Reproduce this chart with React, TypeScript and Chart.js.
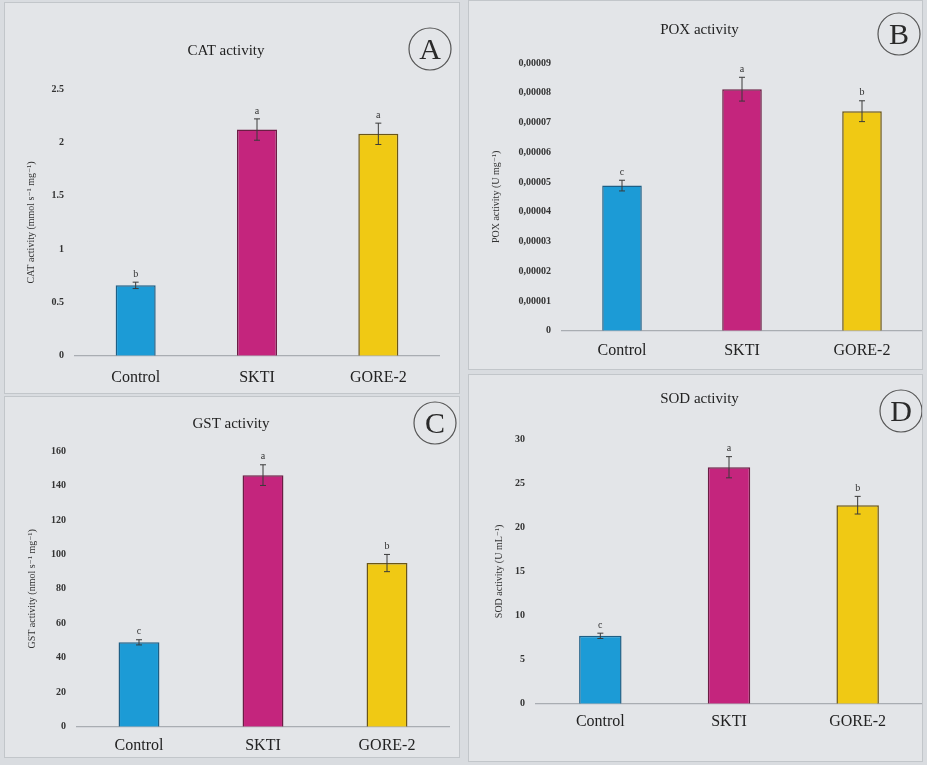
import React, { useEffect, useRef } from "react";
import { Chart, registerables } from "chart.js";

Chart.register(...registerables);

const categories = ["Control", "SKTI", "GORE-2"];

const catValues = [0.66, 2.12, 2.08];
const catErrors = [0.03, 0.1, 0.1];
const catLetters = ["b", "a", "a"];
const catTicks = ["0", "0.5", "1", "1.5", "2", "2.5"];

const poxValues = [0.0000488, 0.0000812, 0.0000738];
const poxErrors = [0.0000018, 0.000004, 0.0000035];
const poxLetters = ["c", "a", "b"];
const poxTicks = ["0", "0,00001", "0,00002", "0,00003", "0,00004", "0,00005", "0,00006", "0,00007", "0,00008", "0,00009"];

const gstValues = [49, 146, 95];
const gstErrors = [1.5, 6, 5];
const gstLetters = ["c", "a", "b"];
const gstTicks = ["0", "20", "40", "60", "80", "100", "120", "140", "160"];

const sodValues = [7.7, 26.8, 22.5];
const sodErrors = [0.3, 1.2, 1.0];
const sodLetters = ["c", "a", "b"];
const sodTicks = ["0", "5", "10", "15", "20", "25", "30"];

const barColors = ["#1c9bd6", "#c4257d", "#f0c914"];
const barBorders = ["#1d5f86", "#6b1d44", "#6a5518"];
const SERIF = "'Liberation Serif', 'DejaVu Serif', serif";

type PanelCfg = {
  title: string;
  tag: string;
  yTitle: string;
  values: number[];
  errors: number[];
  letters: string[];
  ticks: string[];
  step: number;
  max: number;
  box: { left: number; top: number; width: number; height: number };
  titleTop: number;
  titleBottom: number;
  padLeft: number;
  padRight: number;
  padBottom: number;
  xPad: number;
  yWidth: number;
  yTitlePad: number;
  circle: { x: number; y: number };
};

const annotPlugin = {
  id: "annot",
  afterDatasetsDraw(chart: any, _args: any, opts: any) {
    const { ctx } = chart;
    const meta = chart.getDatasetMeta(0);
    const y = chart.scales.y;
    ctx.save();
    opts.values.forEach((v: number, i: number) => {
      const bar = meta.data[i];
      const x = bar.x;
      const top = y.getPixelForValue(v + opts.errors[i]);
      const bot = y.getPixelForValue(v - opts.errors[i]);
      ctx.strokeStyle = "#3a3a3a";
      ctx.lineWidth = 1;
      ctx.beginPath();
      ctx.moveTo(x, top);
      ctx.lineTo(x, bot);
      ctx.moveTo(x - 3, top);
      ctx.lineTo(x + 3, top);
      ctx.moveTo(x - 3, bot);
      ctx.lineTo(x + 3, bot);
      ctx.stroke();
      ctx.fillStyle = "#333";
      ctx.font = `10px ${SERIF}`;
      ctx.textAlign = "center";
      ctx.textBaseline = "bottom";
      ctx.fillText(opts.letters[i], x, top - 3);
    });
    // circled panel tag
    const c = opts.circle;
    ctx.beginPath();
    ctx.arc(c.x, c.y, 21, 0, Math.PI * 2);
    ctx.strokeStyle = "#555";
    ctx.lineWidth = 1.2;
    ctx.stroke();
    ctx.fillStyle = "#2a2a2a";
    ctx.font = `30px ${SERIF}`;
    ctx.textAlign = "center";
    ctx.textBaseline = "middle";
    ctx.fillText(opts.tag, c.x, c.y + 2);
    ctx.restore();
  },
};

function Panel({ cfg }: { cfg: PanelCfg }) {
  const ref = useRef<HTMLCanvasElement | null>(null);
  useEffect(() => {
    if (!ref.current) return;
    const chart = new Chart(ref.current, {
      type: "bar",
      data: {
        labels: categories,
        datasets: [
          {
            data: cfg.values,
            backgroundColor: barColors,
            borderColor: barBorders,
            borderWidth: 1.5,
            barPercentage: 0.33,
            categoryPercentage: 1,
          },
        ],
      },
      options: {
        animation: false,
        responsive: false,
        maintainAspectRatio: false,
        layout: {
          padding: { left: cfg.padLeft, right: cfg.padRight, bottom: cfg.padBottom, top: 0 },
        },
        plugins: {
          legend: { display: false },
          tooltip: { enabled: false },
          title: {
            display: true,
            text: cfg.title,
            color: "#222",
            font: { family: SERIF, size: 15, weight: "normal" },
            padding: { top: cfg.titleTop, bottom: cfg.titleBottom },
          },
          annot: {
            values: cfg.values,
            errors: cfg.errors,
            letters: cfg.letters,
            tag: cfg.tag,
            circle: cfg.circle,
          },
        } as any,
        scales: {
          x: {
            grid: { display: false, drawTicks: false },
            border: { display: true, color: "#a9adb2", width: 1.2 },
            ticks: { color: "#222", font: { family: SERIF, size: 16 }, padding: cfg.xPad, maxRotation: 0 },
          },
          y: {
            min: 0,
            max: cfg.max,
            grid: { display: false, drawTicks: false },
            border: { display: false },
            afterFit: (scale: any) => {
              scale.width = cfg.yWidth;
            },
            ticks: {
              stepSize: cfg.step,
              color: "#333",
              padding: 11,
              font: { family: SERIF, size: 10, weight: "bold" },
              callback: (value: any) => cfg.ticks[Math.round(Number(value) / cfg.step)] ?? "",
            },
            title: {
              display: true,
              text: cfg.yTitle,
              color: "#333",
              font: { family: SERIF, size: 10 },
              padding: { top: cfg.yTitlePad, bottom: 0 },
            },
          },
        },
      },
      plugins: [annotPlugin as any],
    });
    return () => chart.destroy();
  }, [cfg]);
  const b = cfg.box;
  return (
    <div
      style={{
        position: "absolute",
        left: b.left,
        top: b.top,
        width: b.width,
        height: b.height,
        border: "1px solid #c2c6ca",
        boxSizing: "border-box",
        background: "#e3e5e8",
      }}
    >
      <canvas ref={ref} width={b.width - 2} height={b.height - 2} style={{ display: "block" }} />
    </div>
  );
}

const panels: PanelCfg[] = [
  {
    title: "CAT activity",
    tag: "A",
    yTitle: "CAT activity (mmol s\u207B\u00B9 mg\u207B\u00B9)",
    values: catValues,
    errors: catErrors,
    letters: catLetters,
    ticks: catTicks,
    step: 0.5,
    max: 2.5,
    box: { left: 4, top: 2, width: 456, height: 392 },
    titleTop: 39,
    titleBottom: 29,
    padLeft: 8,
    padRight: 20,
    padBottom: -6,
    xPad: 12,
    yWidth: 62,
    yTitlePad: 12,
    circle: { x: 425, y: 46 },
  },
  {
    title: "POX activity",
    tag: "B",
    yTitle: "POX activity (U mg\u207B\u00B9)",
    values: poxValues,
    errors: poxErrors,
    letters: poxLetters,
    ticks: poxTicks,
    step: 0.00001,
    max: 0.00009,
    box: { left: 468, top: 0, width: 455, height: 370 },
    titleTop: 20,
    titleBottom: 24,
    padLeft: 8,
    padRight: 0,
    padBottom: -1,
    xPad: 10,
    yWidth: 85,
    yTitlePad: 13,
    circle: { x: 430, y: 33 },
  },
  {
    title: "GST activity",
    tag: "C",
    yTitle: "GST activity (nmol s\u207B\u00B9 mg\u207B\u00B9)",
    values: gstValues,
    errors: gstErrors,
    letters: gstLetters,
    ticks: gstTicks,
    step: 20,
    max: 160,
    box: { left: 4, top: 396, width: 456, height: 362 },
    titleTop: 18,
    titleBottom: 18,
    padLeft: 8,
    padRight: 10,
    padBottom: -7,
    xPad: 9,
    yWidth: 64,
    yTitlePad: 13,
    circle: { x: 430, y: 26 },
  },
  {
    title: "SOD activity",
    tag: "D",
    yTitle: "SOD activity (U mL\u207B\u00B9)",
    values: sodValues,
    errors: sodErrors,
    letters: sodLetters,
    ticks: sodTicks,
    step: 5,
    max: 30,
    box: { left: 468, top: 374, width: 455, height: 388 },
    titleTop: 15,
    titleBottom: 31,
    padLeft: 8,
    padRight: 0,
    padBottom: 22,
    xPad: 8,
    yWidth: 59,
    yTitlePad: 16,
    circle: { x: 432, y: 36 },
  },
];

export default function App() {
  return (
    <div
      style={{
        position: "fixed",
        left: 0,
        top: 0,
        width: 927,
        height: 765,
        background: "#d9dce0",
        overflow: "hidden",
      }}
    >
      {panels.map((p) => (
        <Panel key={p.tag} cfg={p} />
      ))}
    </div>
  );
}
